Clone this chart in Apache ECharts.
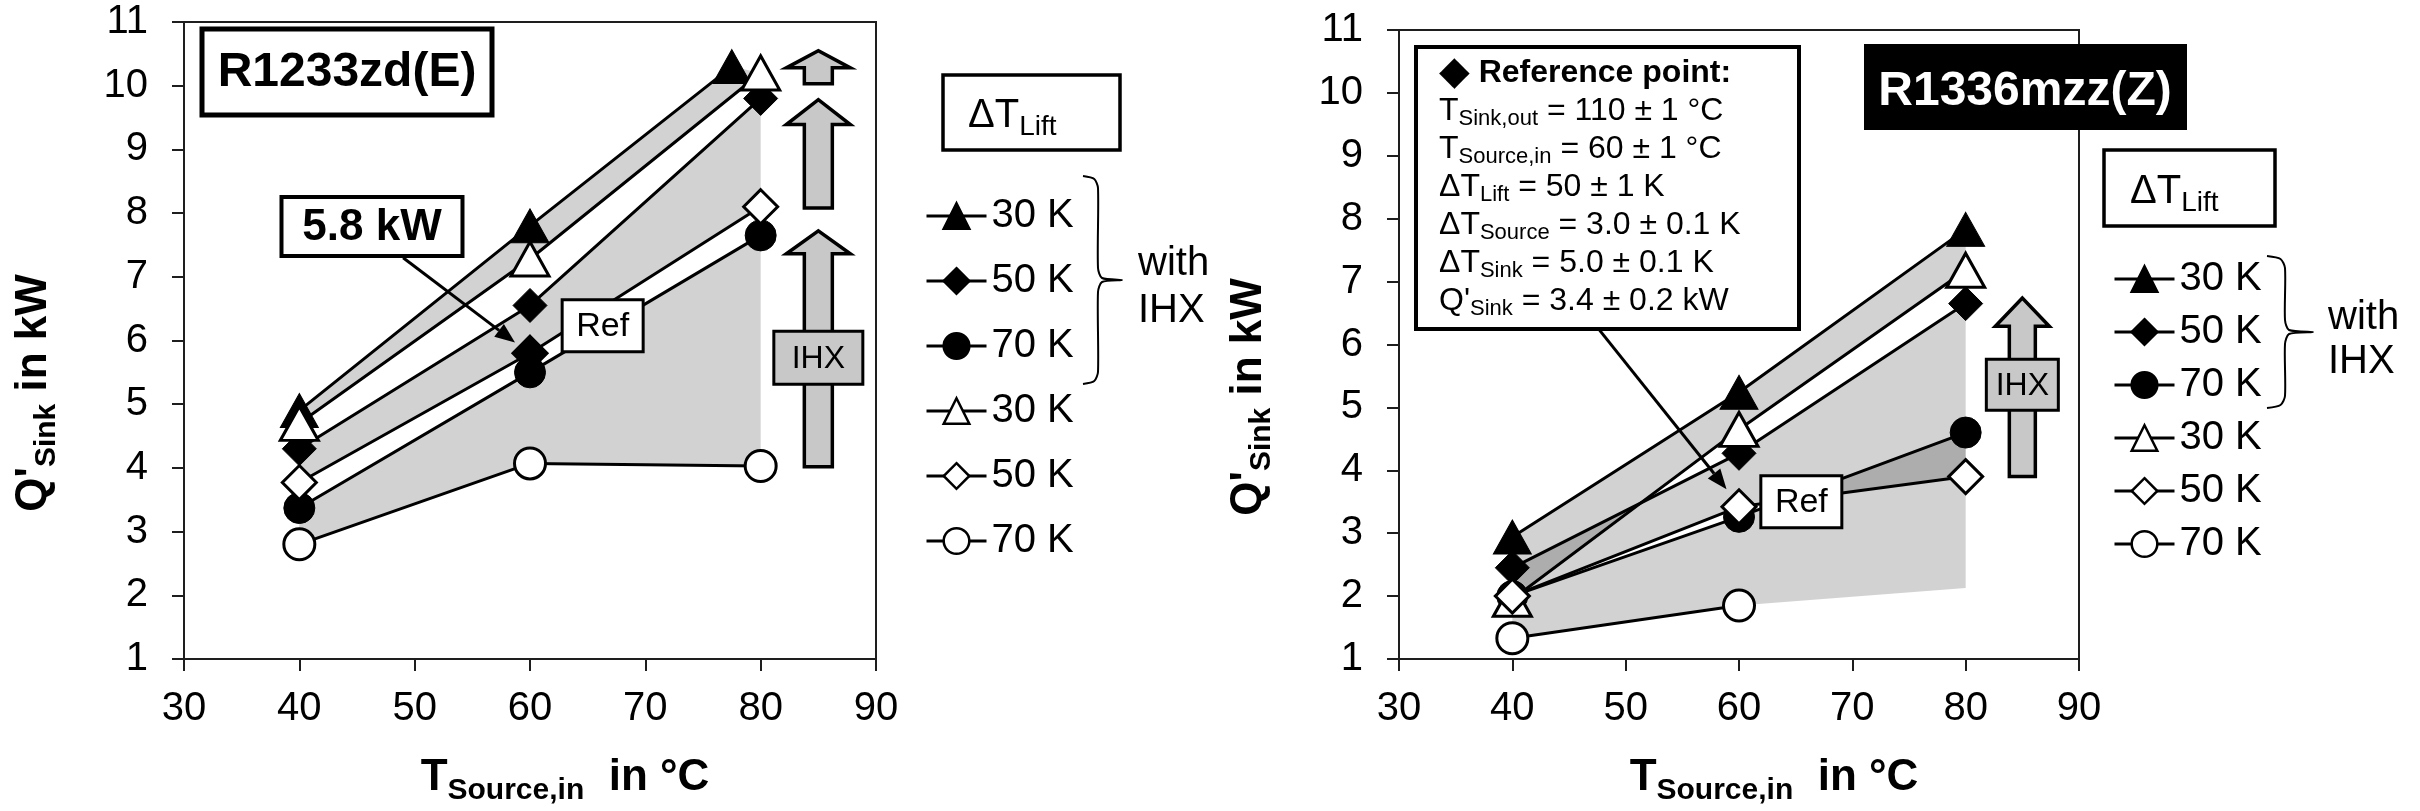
<!DOCTYPE html>
<html>
<head>
<meta charset="utf-8">
<title>Q'Sink over TSource,in – R1233zd(E) and R1336mzz(Z)</title>
<script src="https://cdn.jsdelivr.net/npm/echarts@6.0.0/dist/echarts.min.js"></script>
<style>
  html, body { margin: 0; padding: 0; background: #ffffff; }
  #chart { width: 2420px; height: 811px; }
</style>
</head>
<body>
<div id="chart"></div>
<script>
// ---------------- data: heating capacity Q'Sink (kW) over T_Source,in (°C) ----------------
const liftLabels = ['30 K', '50 K', '70 K'];

// R1233zd(E)
const zdIhx30 = [[40, 4.9], [60, 7.8], [77.5, 10.3]];
const zdIhx50 = [[40, 4.3], [60, 6.55], [80, 9.8]];
const zdIhx70 = [[40, 3.37], [60, 5.5], [80, 7.65]];
const zdNo30 = [[40, 4.7], [60, 7.28], [80, 10.2]];
const zdNo50 = [[40, 3.77], [60, 5.8], [80, 8.1]];
const zdNo70 = [[40, 2.8], [60, 4.07], [80, 4.03]];
const zdRefPoint = [[60, 5.8]];

// R1336mzz(Z)
const mzIhx30 = [[40, 2.94], [60, 5.24], [80, 7.83]];
const mzIhx50 = [[40, 2.45], [60, 4.27], [80, 6.65]];
const mzIhx70 = [[40, 2.0], [60, 3.26], [80, 4.6]];
const mzNo30 = [[40, 1.95], [60, 4.65], [80, 7.18]];
const mzNo50 = [[40, 2.0], [60, 3.42], [80, 3.9]];
const mzNo70 = [[40, 1.33], [60, 1.85]];
const mzNo70Edge = [[40, 1.33], [60, 1.85], [80, 2.13]];   // lower edge of the 70 K gain band

// IHX gain arrows: [x, tail, head base, tip]
const zdGainArrows = [[85, 10.03, 10.28, 10.55], [85, 8.08, 9.39, 9.78], [85, 4.02, 7.36, 7.72]];
const mzGainArrows = [[85, 3.9, 6.29, 6.74]];

// ---------------- look ----------------
const FONT = '"Liberation Sans", "DejaVu Sans", Arial, sans-serif';
const INK = '#000000';
const AXIS_INK = '#1e1e1e';
const BAND = 'rgba(0,0,0,0.175)';
const GREY = '#c8c8c8';

const markerLook = {
  ihx30: { symbol: 'triangle', size: [38, 34], filled: true },
  ihx50: { symbol: 'diamond', size: [34, 34], filled: true },
  ihx70: { symbol: 'circle', size: 31, filled: true },
  no30: { symbol: 'triangle', size: [38, 34], filled: false },
  no50: { symbol: 'diamond', size: [34, 34], filled: false },
  no70: { symbol: 'circle', size: 31, filled: false }
};

const nameRich = {
  b: { fontSize: 44, fontWeight: 'bold', fontFamily: FONT, color: INK, lineHeight: 56 },
  s: { fontSize: 30, fontWeight: 'bold', fontFamily: FONT, color: INK, lineHeight: 34, verticalAlign: 'bottom' }
};

function xAxisFor(gi) {
  return {
    gridIndex: gi, type: 'value', min: 30, max: 90, interval: 10,
    axisLine: { show: true, onZero: false, lineStyle: { color: AXIS_INK, width: 2 } },
    axisTick: { show: true, length: 12, lineStyle: { color: AXIS_INK, width: 2 } },
    axisLabel: { fontSize: 40, color: INK, fontFamily: FONT, margin: 30 },
    splitLine: { show: false },
    name: '{b|T}{s|Source,in}{b|  in °C}',
    nameLocation: 'middle', nameGap: 91,
    nameTextStyle: { rich: nameRich, padding: [0, 0, 0, 70] }
  };
}
function yAxisFor(gi) {
  return {
    gridIndex: gi, type: 'value', min: 1, max: 11, interval: 1,
    axisLine: { show: true, onZero: false, lineStyle: { color: AXIS_INK, width: 2 } },
    axisTick: { show: true, length: 12, lineStyle: { color: AXIS_INK, width: 2 } },
    axisLabel: { fontSize: 40, color: INK, fontFamily: FONT, margin: 36 },
    splitLine: { show: false },
    name: "{b|Q'}{s|Sink}{b| in kW}",
    nameLocation: 'middle', nameGap: 122,
    nameTextStyle: { rich: nameRich, padding: [0, 105, 0, 0] }
  };
}

function lineSeries(gi, name, data, look, z) {
  return {
    type: 'line', name: name, xAxisIndex: gi, yAxisIndex: gi, data: data,
    symbol: look.symbol, symbolSize: look.size, showAllSymbol: true,
    lineStyle: { color: INK, width: 3 },
    itemStyle: { color: look.filled ? INK : '#ffffff', borderColor: INK, borderWidth: look.filled ? 1 : 3 },
    emphasis: { disabled: true }, z: z, silent: true, clip: false
  };
}

// shaded area between the curve with IHX and the curve without IHX
function bandSeries(gi, upper, lower) {
  return {
    type: 'custom', xAxisIndex: gi, yAxisIndex: gi, z: 1, silent: true,
    data: [upper[0]],
    renderItem: function (params, api) {
      const pts = upper.concat(lower.slice().reverse()).map(function (p) { return api.coord(p); });
      return { type: 'polygon', shape: { points: pts }, style: { fill: BAND } };
    }
  };
}

// block arrows that mark the capacity gain by the IHX
function gainArrowSeries(gi, rows, shaftHalf, headHalf) {
  return {
    type: 'custom', xAxisIndex: gi, yAxisIndex: gi, z: 2, silent: true, clip: false,
    data: rows,
    encode: { x: 0, y: [1, 3] },
    renderItem: function (params, api) {
      const t = api.coord([api.value(0), api.value(1)]);
      const b = api.coord([api.value(0), api.value(2)]);
      const a = api.coord([api.value(0), api.value(3)]);
      const cx = t[0];
      return {
        type: 'polygon',
        shape: { points: [[cx - shaftHalf, t[1]], [cx - shaftHalf, b[1]], [cx - headHalf, b[1]], [cx, a[1]],
                          [cx + headHalf, b[1]], [cx + shaftHalf, b[1]], [cx + shaftHalf, t[1]]] },
        style: { fill: GREY, stroke: INK, lineWidth: 3.5, lineJoin: 'miter' }
      };
    }
  };
}

// thin pointer arrows: [x0, y0, x1, y1]
function pointerSeries(gi, rows) {
  return {
    type: 'custom', xAxisIndex: gi, yAxisIndex: gi, z: 20, silent: true, clip: false,
    data: rows,
    encode: { x: [0, 2], y: [1, 3] },
    renderItem: function (params, api) {
      const p0 = api.coord([api.value(0), api.value(1)]);
      const p1 = api.coord([api.value(2), api.value(3)]);
      const ang = Math.atan2(p1[1] - p0[1], p1[0] - p0[0]);
      const len = 20, half = 8;
      const bx = p1[0] - len * Math.cos(ang), by = p1[1] - len * Math.sin(ang);
      const nx = -Math.sin(ang), ny = Math.cos(ang);
      return {
        type: 'group', children: [
          { type: 'line', shape: { x1: p0[0], y1: p0[1], x2: bx, y2: by }, style: { stroke: INK, lineWidth: 3 } },
          { type: 'polygon', shape: { points: [p1, [bx + nx * half, by + ny * half], [bx - nx * half, by - ny * half]] },
            style: { fill: INK } }
        ]
      };
    }
  };
}

// framed labels anchored at a data position: [x, y]
function labelBoxSeries(gi, pos, w, h, text, font, fill, lineWidth) {
  return {
    type: 'custom', xAxisIndex: gi, yAxisIndex: gi, z: 30, silent: true, clip: false,
    data: [pos],
    renderItem: function (params, api) {
      const c = api.coord([api.value(0), api.value(1)]);
      return {
        type: 'group', children: [
          { type: 'rect', shape: { x: c[0] - w / 2, y: c[1] - h / 2, width: w, height: h },
            style: { fill: fill, stroke: INK, lineWidth: lineWidth } },
          { type: 'text', style: { x: c[0], y: c[1] + 1, text: text, fill: INK, align: 'center', verticalAlign: 'middle',
            fontSize: font.size, fontWeight: font.weight, fontFamily: FONT } }
        ]
      };
    }
  };
}

function chartSeries(gi, prefix, sets) {
  const keys = ['ihx30', 'ihx50', 'ihx70', 'no30', 'no50', 'no70'];
  const names = keys.map(function (k, i) {
    return prefix + ' ' + liftLabels[i % 3] + (i < 3 ? ' with IHX' : '');
  });
  const out = [];
  out.push(bandSeries(gi, sets.ihx30, sets.no30));
  out.push(bandSeries(gi, sets.ihx50, sets.no50));
  out.push(bandSeries(gi, sets.ihx70, sets.band70 || sets.no70));
  keys.forEach(function (k, i) { out.push(lineSeries(gi, names[i], sets[k], markerLook[k], 4 + i)); });
  return { series: out, names: names };
}

const left = chartSeries(0, 'R1233zd(E)', {
  ihx30: zdIhx30, ihx50: zdIhx50, ihx70: zdIhx70, no30: zdNo30, no50: zdNo50, no70: zdNo70
});
const right = chartSeries(1, 'R1336mzz(Z)', {
  ihx30: mzIhx30, ihx50: mzIhx50, ihx70: mzIhx70, no30: mzNo30, no50: mzNo50, no70: mzNo70, band70: mzNo70Edge
});

const series = [].concat(
  left.series,
  [
    {
      type: 'line', name: 'R1233zd(E) reference point', xAxisIndex: 0, yAxisIndex: 0, data: zdRefPoint,
      symbol: 'diamond', symbolSize: [34, 34], lineStyle: { width: 0 },
      itemStyle: { color: INK, borderColor: INK, borderWidth: 1 }, z: 12, silent: true
    },
    gainArrowSeries(0, zdGainArrows, 14, 32),
    labelBoxSeries(0, [85, 5.73], 89, 53, 'IHX', { size: 32, weight: 'normal' }, GREY, 3),
    labelBoxSeries(0, [66.3, 6.23], 81, 52, 'Ref', { size: 34, weight: 'normal' }, '#ffffff', 3),
    labelBoxSeries(0, [46.3, 7.79], 181, 59, '5.8 kW', { size: 44, weight: 'bold' }, '#ffffff', 4),
    pointerSeries(0, [[49, 7.3, 58.7, 5.97]])
  ],
  right.series,
  [
    gainArrowSeries(1, mzGainArrows, 13, 27),
    labelBoxSeries(1, [85, 5.36], 72, 51, 'IHX', { size: 32, weight: 'normal' }, GREY, 3),
    labelBoxSeries(1, [65.5, 3.5], 81, 52, 'Ref', { size: 34, weight: 'normal' }, '#ffffff', 3),
    pointerSeries(1, [[47.2, 6.34, 58.9, 3.7]])
  ]
);

function legendFor(names, leftPx, topPx, gap) {
  return {
    data: names, orient: 'vertical', left: leftPx, top: topPx, itemGap: gap,
    itemWidth: 60, itemHeight: 32, selectedMode: false, padding: 0,
    formatter: function (n) { return n.split(' ').slice(1, 3).join(' '); },
    textStyle: { fontSize: 40, color: INK, fontFamily: FONT },
    itemStyle: { borderWidth: 2.5 },
    lineStyle: { width: 3 }
  };
}

function brace(x, yTop, yBot, depth, tip) {
  const ym = (yTop + yBot) / 2;
  return {
    type: 'polyline', z: 100, silent: true,
    shape: { smooth: 0.25, points: [
      [x, yTop], [x + depth * 0.75, yTop + 3], [x + depth, yTop + 12],
      [x + depth, ym - 12], [x + depth + 4, ym - 2], [x + depth + tip, ym],
      [x + depth + 4, ym + 2], [x + depth, ym + 12],
      [x + depth, yBot - 12], [x + depth * 0.75, yBot - 3], [x, yBot]
    ] },
    style: { stroke: INK, lineWidth: 2, fill: null }
  };
}

function plainText(x, y, text, size, weight, fill, align) {
  return {
    type: 'text', z: 100, silent: true,
    style: { x: x, y: y, text: text, fill: fill || INK, fontSize: size, fontWeight: weight || 'normal', fontFamily: FONT,
             align: align || 'left', verticalAlign: 'middle' }
  };
}

function liftHeading(x, y, w, h, tx, ty) {
  return [
    { type: 'rect', z: 100, silent: true, shape: { x: x, y: y, width: w, height: h },
      style: { fill: '#ffffff', stroke: INK, lineWidth: 3.5 } },
    { type: 'text', z: 101, silent: true,
      style: { x: tx, y: ty, text: '{d|ΔT}{s|Lift}', align: 'left', verticalAlign: 'middle',
        rich: {
          d: { fontSize: 40, fontFamily: FONT, fill: INK, lineHeight: 50 },
          s: { fontSize: 28, fontFamily: FONT, fill: INK, lineHeight: 30, verticalAlign: 'bottom' }
        } } }
  ];
}

const refRich = {
  dia: { fontSize: 40, fontFamily: FONT, fill: INK, lineHeight: 38 },
  h: { fontSize: 32, fontWeight: 'bold', fontFamily: FONT, fill: INK, lineHeight: 38 },
  t: { fontSize: 32, fontFamily: FONT, fill: INK, lineHeight: 38 },
  s: { fontSize: 22, fontFamily: FONT, fill: INK, lineHeight: 18, verticalAlign: 'bottom' }
};
const refLines = [
  '{dia|◆}{h| Reference point:}',
  '{t|T}{s|Sink,out}{t| = 110 ± 1 °C}',
  '{t|T}{s|Source,in}{t| = 60 ± 1 °C}',
  '{t|ΔT}{s|Lift}{t| = 50 ± 1 K}',
  '{t|ΔT}{s|Source}{t| = 3.0 ± 0.1 K}',
  '{t|ΔT}{s|Sink}{t| = 5.0 ± 0.1 K}',
  "{t|Q'}{s|Sink}{t| = 3.4 ± 0.2 kW}"
];

const graphics = [].concat(
  // R1233zd(E) title
  [{ type: 'rect', z: 100, silent: true, shape: { x: 202, y: 29, width: 290, height: 86 },
     style: { fill: '#ffffff', stroke: INK, lineWidth: 5 } },
   plainText(347, 73, 'R1233zd(E)', 48, 'bold', INK, 'center')],
  // R1336mzz(Z) title
  [{ type: 'rect', z: 100, silent: true, shape: { x: 1864, y: 44, width: 323, height: 86 },
     style: { fill: '#000000' } },
   plainText(2025, 92, 'R1336mzz(Z)', 48, 'bold', '#ffffff', 'center')],
  liftHeading(943, 75, 177, 75, 968, 116),
  liftHeading(2104, 150, 171, 76, 2130, 192),
  [brace(1083, 176, 384, 15, 24), plainText(1138, 264, 'with', 40), plainText(1138, 311, 'IHX', 40)],
  [brace(2267, 256, 408, 18, 28), plainText(2328, 318, 'with', 40), plainText(2328, 362, 'IHX', 40)],
  // reference point description
  [{ type: 'rect', z: 100, silent: true, shape: { x: 1416, y: 47, width: 383, height: 282 },
     style: { fill: '#ffffff', stroke: INK, lineWidth: 4 } },
   { type: 'text', z: 101, silent: true,
     style: { x: 1439, y: 54, text: refLines.join('\n'), rich: refRich, align: 'left', verticalAlign: 'top' } }]
);

const option = {
  animation: false,
  backgroundColor: '#ffffff',
  textStyle: { fontFamily: FONT },
  grid: [
    { left: 184, top: 22, width: 692, height: 640, show: true, borderColor: AXIS_INK, borderWidth: 2, containLabel: false },
    { left: 1399, top: 30, width: 680, height: 641, show: true, borderColor: AXIS_INK, borderWidth: 2, containLabel: false }
  ],
  xAxis: [xAxisFor(0), xAxisFor(1)],
  yAxis: [yAxisFor(0), yAxisFor(1)],
  legend: [legendFor(left.names, 925, 196, 25), legendFor(right.names, 2113, 259, 13)],
  series: series,
  graphic: { elements: graphics }
};

const chart = echarts.init(document.getElementById('chart'), null, { renderer: 'canvas' });
chart.setOption(option);
</script>
</body>
</html>
